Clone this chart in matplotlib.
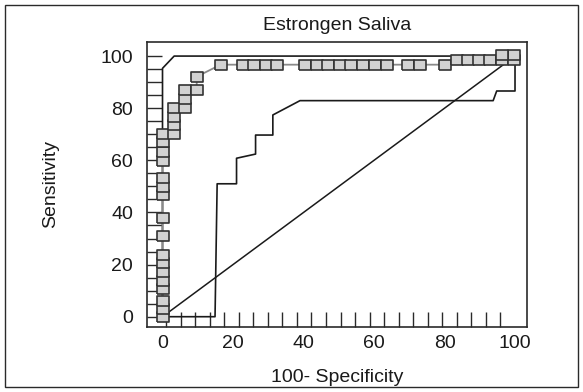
import numpy as np
import matplotlib
matplotlib.use("Agg")
import matplotlib.pyplot as plt
from matplotlib.patches import Rectangle

plt.rcParams['font.family'] = ['Liberation Sans', 'DejaVu Sans']

title = "Estrongen Saliva"
xlabel = "100- Specificity"
ylabel = "Sensitivity"
tick_vals = [0, 20, 40, 60, 80, 100]

# ROC curve with square markers (empirical points)
roc_x = [0]*17 + [3.2]*4 + [6.5]*3 + [9.7]*2 + \
        [16.5, 22.8, 26.0, 29.3, 32.6, 40.4, 43.7, 47.0, 50.3, 53.6, 57.0, 60.3, 63.6, 69.7, 73.0, 80.0] + \
        [83.5, 86.6, 89.8, 93.0, 96.3, 99.7] + [99.7, 96.3]
roc_y = [0, 2.8, 6.0, 10.5, 13.8, 17.0, 20.5, 23.7, 31.1, 37.7, 46.6, 49.9, 53.3, 59.7, 63.3, 66.9, 70.0] + \
        [70.0, 73.4, 76.7, 80.0] + [80.0, 83.6, 87.0] + [87.0, 92.1] + \
        [96.7]*16 + [98.4]*6 + [100.6, 100.6]

# Step-shaped ROC curve (thin black)
step_x = [0, 14.9, 15.5, 21.0, 21.0, 26.4, 26.4, 31.3, 31.3, 39.0, 93.8, 94.8, 100, 100]
step_y = [0, 0, 51.0, 51.0, 60.8, 62.4, 69.7, 69.7, 77.4, 82.9, 82.9, 86.6, 86.6, 100]

# Upper curve (thin black)
upper_x = [0, 0, 3.3, 100]
upper_y = [0, 95.3, 100, 100]

# Reference diagonal
diag_x = [0, 100]
diag_y = [0, 100]

fig = plt.figure(figsize=(5.83, 3.92), dpi=100)
ax = fig.add_axes([147/583, 1-327/392, (527-147)/583, (327-42)/392])

ax.plot(diag_x, diag_y, color='#1a1a1a', lw=1.1, zorder=2)
ax.plot(step_x, step_y, color='#1a1a1a', lw=1.2, zorder=2)
ax.plot(upper_x, upper_y, color='#1a1a1a', lw=1.2, zorder=2)
ax.plot(roc_x[:-2], roc_y[:-2], color='#8a8a8a', lw=1.3, zorder=3)
rect = [(-1, -0.8), (1, -0.8), (1, 0.8), (-1, 0.8), (-1, -0.8)]
ax.plot(roc_x, roc_y, ls='none', marker=rect, markersize=8.2,
        markerfacecolor='#d2d2d2', markeredgecolor='#333333', markeredgewidth=1.2, zorder=4)

ax.set_xlim(-4.4, 103.4)
ax.set_ylim(-3.95, 105.4)

ax.set_xticks(tick_vals)
ax.set_xticklabels([str(v) for v in tick_vals])
ax.set_xticks(np.linspace(1, 100, 25), minor=True)
ax.set_yticks(tick_vals)
ax.set_yticklabels([str(v) for v in tick_vals])
ax.set_yticks(np.arange(0, 101, 5), minor=True)

ax.tick_params(axis='x', which='major', length=0, pad=6, labelsize=14, colors='#1a1a1a')
ax.tick_params(axis='x', which='minor', direction='in', length=11, width=1.0, color='#2a2a2a')
ax.tick_params(axis='y', which='both', direction='in', length=11, width=1.0, color='#2a2a2a')
ax.tick_params(axis='y', which='major', pad=10, labelsize=14, labelcolor='#1a1a1a')

for s in ax.spines.values():
    s.set_linewidth(1.2)
    s.set_color('#2a2a2a')

ax.set_title(title, fontsize=14, pad=9, color='#1a1a1a')
ax.set_xlabel(xlabel, fontsize=14, labelpad=12, color='#1a1a1a')
ax.set_ylabel(ylabel, fontsize=14, labelpad=30, color='#1a1a1a')

fig.patches.append(Rectangle((5/583, 5/392), 573/583, 382/392, transform=fig.transFigure,
                             fill=False, edgecolor='#2a2a2a', lw=1.0))

fig.savefig("out.png", dpi=100)
